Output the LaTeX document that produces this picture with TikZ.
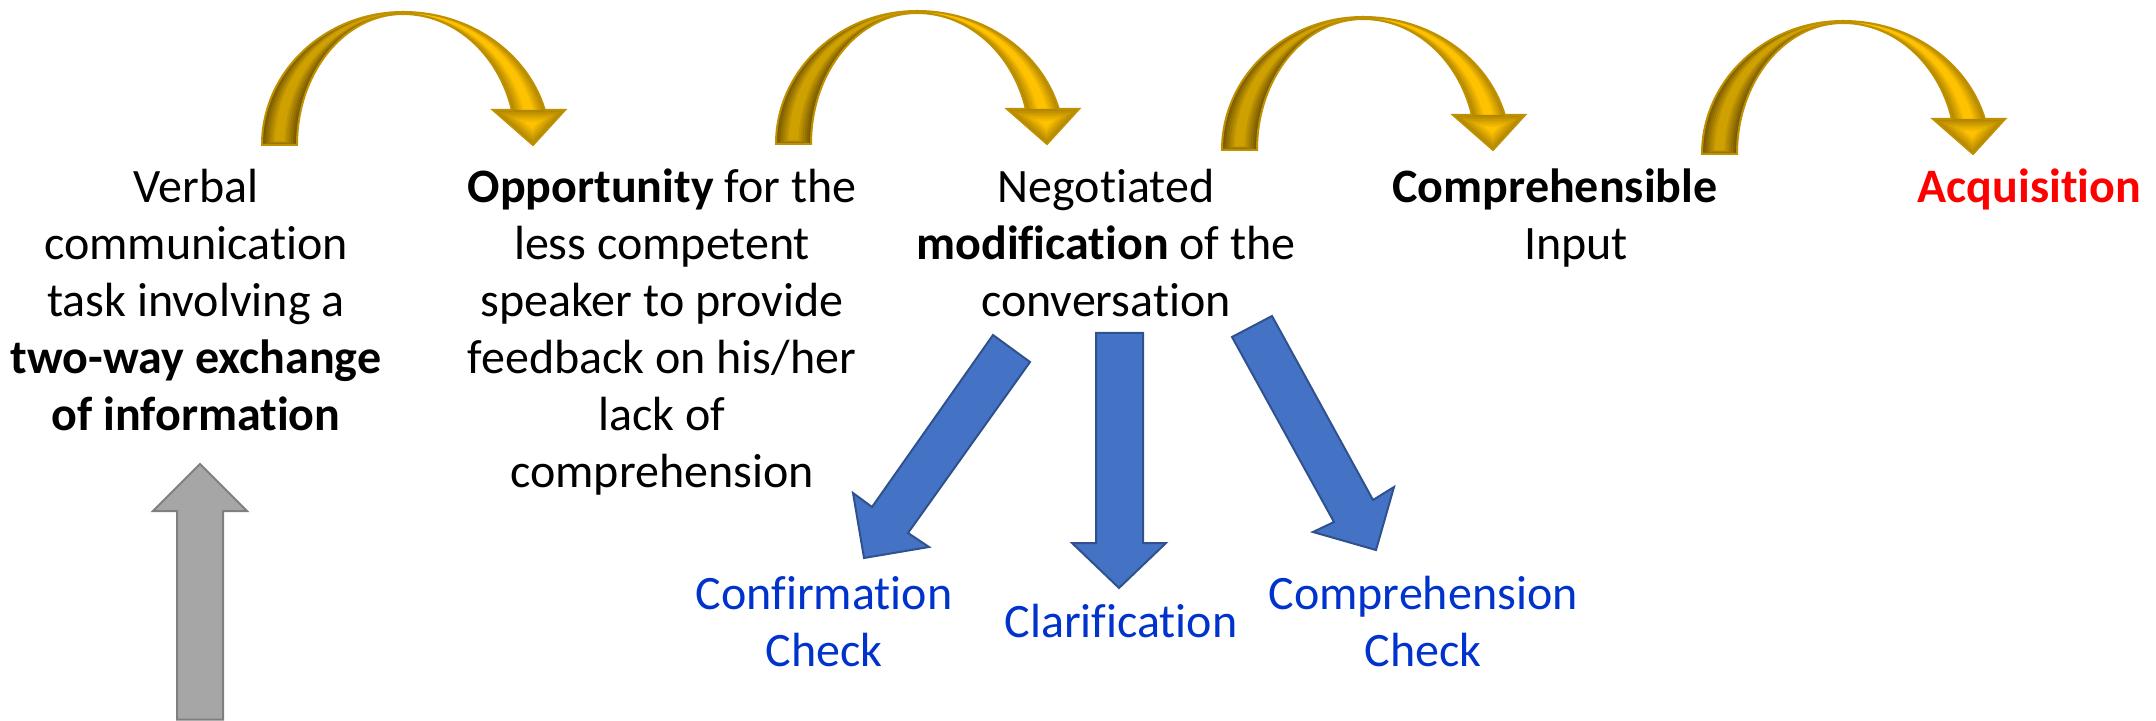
\documentclass[tikz,border=0pt]{standalone}
\usepackage{fontspec}
\setmainfont{Carlito}[Ligatures={NoCommon,NoContextual}]

\definecolor{backedge}{RGB}{118,88,0}
\definecolor{backmid}{RGB}{206,160,0}
\definecolor{frontedge}{RGB}{178,135,0}
\definecolor{frontmid}{RGB}{255,194,0}
\definecolor{goldline}{RGB}{191,144,0}
\definecolor{bluefill}{RGB}{68,114,196}
\definecolor{blueline}{RGB}{47,82,143}
\definecolor{greyfill}{RGB}{166,166,166}
\definecolor{greyline}{RGB}{127,127,127}
\definecolor{labelblue}{RGB}{0,51,204}
\definecolor{labelred}{RGB}{255,0,0}

\tikzset{
  txt/.style={font=\fontsize{24}{28.5}\selectfont, align=center, inner sep=0pt, anchor=north},
  bluearrow/.style={fill=bluefill, draw=blueline, line width=1pt, line join=miter},
  greyarrow/.style={fill=greyfill, draw=greyline, line width=1pt, line join=miter},
  goldedge/.style={draw=goldline, line width=1pt, line join=miter},
  % bevelled ribbon arrow bending over to the right
  curvedarrow/.pic={
    \begin{scope}[yscale=-1]
      % rear half of the ribbon
      \foreach \k in {0,...,6}{
        \pgfmathsetmacro\Fr{0.06*\k}
        \pgfmathsetmacro\Pc{100*\k/6}
        \pgfmathsetmacro\RxO{141-35*\Fr}
        \pgfmathsetmacro\RyO{133-2*\Fr}
        \pgfmathsetmacro\RxI{106+35*\Fr}
        \pgfmathsetmacro\RyI{131+2*\Fr}
        \pgfmathsetmacro\Lb{10*\Fr}
        \pgfmathsetmacro\AngI{180-asin(\Lb/\RyI)}
        \pgfmathsetmacro\AngO{180-asin(\Lb/\RyO)}
        \fill[backmid!\Pc!backedge] ({141+\RxO*cos(\AngO)},\Lb) -- ({141+\RxI*cos(\AngI)},\Lb)
          arc[start angle=\AngI, end angle=90, x radius=\RxI, y radius=\RyI]
          -- (141,\RyO)
          arc[start angle=90, end angle=\AngO, x radius=\RxO, y radius=\RyO] -- cycle;
      }
      \path[goldedge] (0,0) -- (35,0)
        arc[start angle=180, end angle=90, x radius=106, y radius=131]
        -- (141,133)
        arc[start angle=90, end angle=180, x radius=141, y radius=133] -- cycle;
      % front half of the ribbon
      \foreach \k in {0,...,6}{
        \pgfmathsetmacro\Fr{0.06*\k}
        \pgfmathsetmacro\Pc{100*\k/6}
        \pgfmathsetmacro\RxO{147-34*\Fr}
        \pgfmathsetmacro\RyO{133-2*\Fr}
        \pgfmathsetmacro\RxI{113+34*\Fr}
        \pgfmathsetmacro\RyI{131+2*\Fr}
        \pgfmathsetmacro\AngO{asin(35/\RyO)}
        \pgfmathsetmacro\AngI{asin(35/\RyI)}
        \fill[frontmid!\Pc!frontedge] ({141+\RxI*cos(\AngI)},35)
          arc[start angle=\AngI, end angle=90, x radius=\RxI, y radius=\RyI]
          -- (141,\RyO)
          arc[start angle=90, end angle=\AngO, x radius=\RxO, y radius=\RyO] -- cycle;
      }
      % arrow head
      \foreach \k in {0,...,6}{
        \pgfmathsetmacro\Fr{0.06*\k}
        \pgfmathsetmacro\Pc{100*\k/6}
        \pgfmathsetmacro\Sc{1-2.2*\Fr}
        \fill[frontmid!\Pc!frontedge] ({270+\Sc*(231-270)},{20.4+\Sc*(35-20.4)})
          -- ({270+\Sc*(271-270)},{20.4+\Sc*(0-20.4)})
          -- ({270+\Sc*(303-270)},{20.4+\Sc*(35-20.4)}) -- cycle;
      }
      \pgfmathsetmacro\AngO{asin(35/133)}
      \pgfmathsetmacro\AngI{asin(35/131)}
      \path[goldedge] (141,131)
        arc[start angle=90, end angle=\AngI, x radius=113, y radius=131]
        -- (231,35) -- (271,0) -- (303,35) -- ({141+147*cos(\AngO)},35)
        arc[start angle=\AngO, end angle=90, x radius=147, y radius=133] -- cycle;
    \end{scope}
  }
}

\begin{document}
\begin{tikzpicture}[x=0.5pt, y=-0.5pt]
  \useasboundingbox (0,0) rectangle (2156,721);

  % chain of curved arrows along the top
  \pic (bend1) at (262,145) {curvedarrow};
  \pic (bend2) at (776,144) {curvedarrow};
  \pic (bend3) at (1222,150) {curvedarrow};
  \pic (bend4) at (1702,154) {curvedarrow};

  % stages
  \node[txt] (task) at (196,162.5) {\strut Verbal\\communication\\task involving a\\\textbf{two-way exchange}\\\textbf{of information}};
  \node[txt] (opportunity) at (662,162.5) {\strut\textbf{Opportunity} for the\\less competent\\speaker to provide\\feedback on his/her\\lack of\\comprehension};
  \node[txt] (negotiated) at (1106,162.5) {\strut Negotiated\\\textbf{modification} of the\\conversation};
  \node[txt] (input) at (1555,162.5) {\strut\textbf{Comprehensible}\\\hspace*{21pt}Input};
  \node[txt, text=labelred] (acquisition) at (2029.5,162.5) {\strut\textbf{Acquisition}};

  % kinds of modification
  \node[txt, text=labelblue] (confirm) at (824,569.5) {\strut Confirmation\\Check};
  \node[txt, text=labelblue] (clarify) at (1121,597.5) {\strut Clarification};
  \node[txt, text=labelblue] (comprehend) at (1423,569.5) {\strut Comprehension\\Check};

  % block arrows leading from the modification to its kinds
  \path[bluearrow] (993,335) -- (1030,362) -- (908,533) -- (929,547) -- (864,558) -- (853,493) -- (872,507) -- cycle;
  \path[bluearrow] (1096,333) -- (1143,333) -- (1143,543) -- (1166,543) -- (1119,588) -- (1072,543) -- (1096,543) -- cycle;
  \path[bluearrow] (1232,337) -- (1272,316) -- (1373,500) -- (1394,487) -- (1376,550) -- (1313,532) -- (1334,522) -- cycle;

  % upward arrow into the first stage
  \path[greyarrow] (177,719.5) -- (177,511) -- (153,511) -- (200,464) -- (247,511) -- (223,511) -- (223,719.5) -- cycle;
\end{tikzpicture}
\end{document}
